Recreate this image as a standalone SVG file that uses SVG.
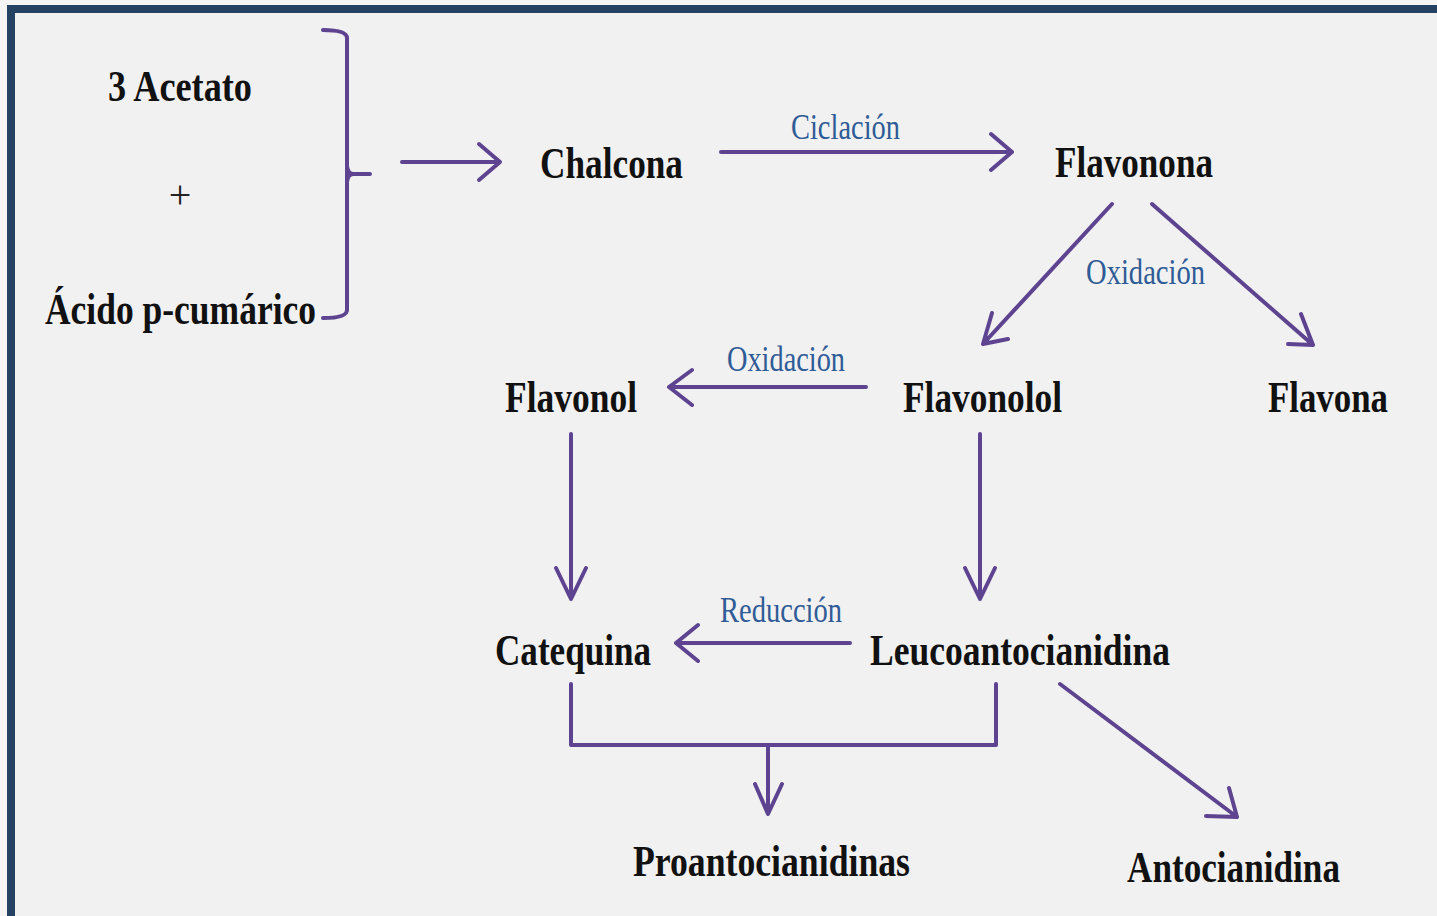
<svg xmlns="http://www.w3.org/2000/svg" width="1437" height="916" viewBox="0 0 1437 916">
  <style>
    .node { font-family: "Liberation Serif", "Times New Roman", serif; font-weight: bold; font-size: 44px; fill: #111; }
    .lbl { font-family: "Liberation Serif", "Times New Roman", serif; font-size: 35px; fill: #2f5b96; }
    .plus { font-family: "Liberation Serif", "Times New Roman", serif; font-size: 40px; fill: #222; }
    .ln { fill: none; stroke: #5e4490; stroke-width: 4; stroke-linecap: round; stroke-linejoin: round; }
  </style>

  <!-- page and frame -->
  <rect x="0" y="0" width="1437" height="916" fill="#f5f5f5"/>
  <rect x="7" y="5" width="1430" height="911" fill="#f1f1f1"/>
  <rect x="7" y="5" width="1430" height="8" fill="#264262"/>
  <rect x="7" y="5" width="8" height="911" fill="#264262"/>

  <!-- connectors -->
  <g id="connectors">
    <!-- bracket joining the two precursors -->
    <path class="ln" d="M323,30 Q347,30 347,38 L347,310 Q347,318 323,318 M347,166 Q348,174 353,174 L370,174 M347,182 Q348,174 353,174"/>
    <!-- precursors to Chalcona -->
    <path class="ln" d="M402,162 L500,162 M479,144 L500,162 L479,180"/>
    <!-- Chalcona to Flavonona -->
    <path class="ln" d="M721,152 L1012,152 M991,134 L1012,152 L991,170"/>
    <!-- Flavonona to Flavonolol -->
    <path class="ln" d="M1112,204 L983,344 M992,313 L983,344 L1008,339"/>
    <!-- Flavonona to Flavona -->
    <path class="ln" d="M1152,204 L1313,345 M1301,314 L1313,345 L1288,344"/>
    <!-- Flavonolol to Flavonol -->
    <path class="ln" d="M866,387 L669,387 M692,370 L669,387 L692,405"/>
    <!-- Flavonol to Catequina -->
    <path class="ln" d="M571,434 L571,599 M556,568 L571,599 L586,568"/>
    <!-- Flavonolol to Leucoantocianidina -->
    <path class="ln" d="M980,434 L980,599 M965,568 L980,599 L995,568"/>
    <!-- Leucoantocianidina to Catequina -->
    <path class="ln" d="M850,643 L676,643 M698,625 L676,643 L698,661"/>
    <!-- Catequina + Leucoantocianidina to Proantocianidinas -->
    <path class="ln" d="M571,684 L571,745 L996,745 L996,684 M768,745 L768,814 M755,784 L768,814 L782,784"/>
    <!-- Leucoantocianidina to Antocianidina -->
    <path class="ln" d="M1060,684 L1237,817 M1229,788 L1237,817 L1206,816"/>
  </g>

  <!-- reaction labels -->
  <g id="labels">
    <text class="lbl" x="791" y="139" textLength="109" lengthAdjust="spacingAndGlyphs">Ciclación</text>
    <text class="lbl" x="1086" y="284" textLength="119" lengthAdjust="spacingAndGlyphs">Oxidación</text>
    <text class="lbl" x="727" y="371" textLength="118" lengthAdjust="spacingAndGlyphs">Oxidación</text>
    <text class="lbl" x="720" y="622" textLength="122" lengthAdjust="spacingAndGlyphs">Reducción</text>
  </g>

  <!-- compounds -->
  <g id="acetato"><text class="node" x="108" y="101" textLength="144" lengthAdjust="spacingAndGlyphs">3 Acetato</text></g>
  <g id="plus"><text class="plus" x="180" y="208" text-anchor="middle">+</text></g>
  <g id="acido"><text class="node" x="45" y="324" textLength="271" lengthAdjust="spacingAndGlyphs">Ácido p-cumárico</text></g>
  <g id="chalcona"><text class="node" x="540" y="178" textLength="143" lengthAdjust="spacingAndGlyphs">Chalcona</text></g>
  <g id="flavonona"><text class="node" x="1055" y="177" textLength="158" lengthAdjust="spacingAndGlyphs">Flavonona</text></g>
  <g id="flavonol"><text class="node" x="505" y="412" textLength="132" lengthAdjust="spacingAndGlyphs">Flavonol</text></g>
  <g id="flavonolol"><text class="node" x="903" y="412" textLength="159" lengthAdjust="spacingAndGlyphs">Flavonolol</text></g>
  <g id="flavona"><text class="node" x="1268" y="412" textLength="120" lengthAdjust="spacingAndGlyphs">Flavona</text></g>
  <g id="catequina"><text class="node" x="495" y="665" textLength="156" lengthAdjust="spacingAndGlyphs">Catequina</text></g>
  <g id="leucoantocianidina"><text class="node" x="870" y="665" textLength="300" lengthAdjust="spacingAndGlyphs">Leucoantocianidina</text></g>
  <g id="proantocianidinas"><text class="node" x="633" y="876" textLength="277" lengthAdjust="spacingAndGlyphs">Proantocianidinas</text></g>
  <g id="antocianidina"><text class="node" x="1127" y="882" textLength="213" lengthAdjust="spacingAndGlyphs">Antocianidina</text></g>
</svg>
